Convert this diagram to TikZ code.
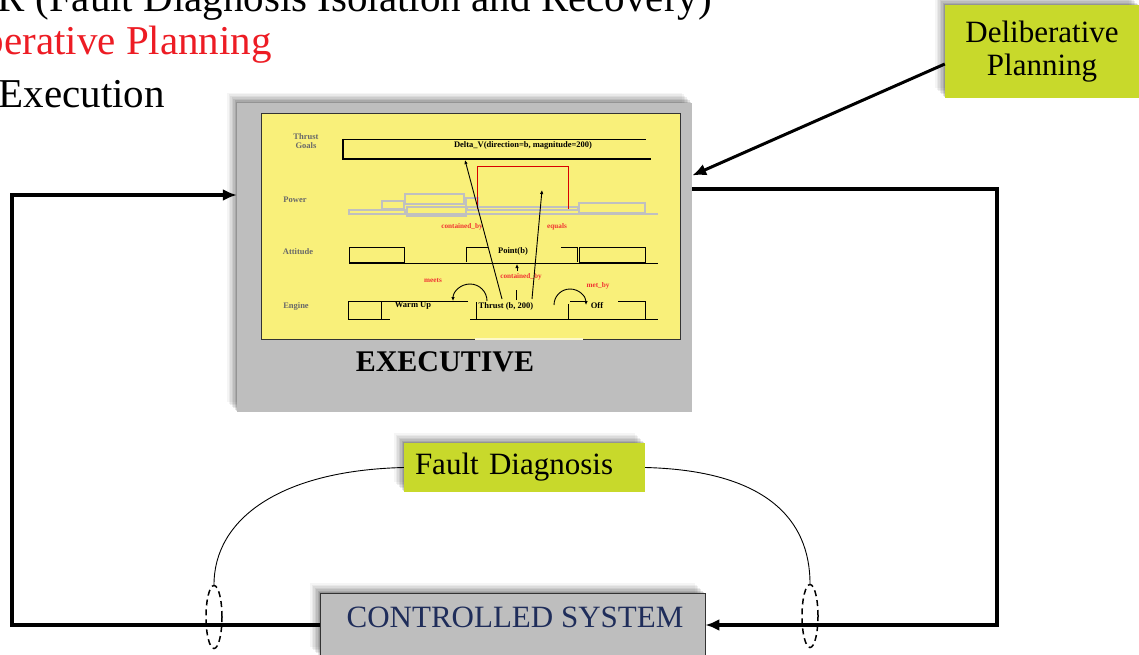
\documentclass[tikz,border=0pt]{standalone}
\usepackage{fontspec}
\setmainfont{Liberation Serif}
\usepackage{tikz}
\usetikzlibrary{shadows}
\usetikzlibrary{arrows.meta}
\usetikzlibrary{shapes.geometric}
\usetikzlibrary{positioning}
\usetikzlibrary{calc}
\definecolor{execgray}{RGB}{190,190,190}
\definecolor{panelyellow}{RGB}{249,240,122}
\definecolor{limegreen}{RGB}{200,217,43}
\definecolor{navytext}{RGB}{31,45,90}
\definecolor{slidered}{RGB}{237,28,36}
\definecolor{tagred}{RGB}{240,50,50}
\definecolor{rowgray}{RGB}{105,105,105}
\definecolor{powergray}{RGB}{192,192,192}
\tikzset{
  >=latex,
  % soft drop shadow towards the upper left
  softshadow/.style={
    general shadow={fill=black, opacity=.04, shadow xshift=-10pt, shadow yshift=10pt},
    general shadow={fill=black, opacity=.05, shadow xshift=-8.5pt, shadow yshift=8.5pt},
    general shadow={fill=black, opacity=.06, shadow xshift=-7pt, shadow yshift=7pt},
    general shadow={fill=black, opacity=.07, shadow xshift=-5.5pt, shadow yshift=5.5pt},
    general shadow={fill=black, opacity=.08, shadow xshift=-4pt, shadow yshift=4pt},
    general shadow={fill=black, opacity=.10, shadow xshift=-2.5pt, shadow yshift=2.5pt},
    general shadow={fill=black, opacity=.12, shadow xshift=-1pt, shadow yshift=1pt}},
  slidetext/.style={font=\fontsize{41}{48}\selectfont, inner sep=0pt},
  boxtext/.style={font=\fontsize{31}{37}\selectfont},
  loopline/.style={draw, line width=4pt, -{Latex[length=14pt,width=12pt]}},
  fdarc/.style={draw, line width=.9pt},
  tl/.style={draw, line width=.9pt},
  pw/.style={draw=powergray, line width=1.1pt},
  tinybold/.style={font=\fontsize{8.5}{9.5}\selectfont\bfseries, inner sep=0pt},
  rowlabel/.style={font=\fontsize{8.5}{9}\selectfont\bfseries, text=rowgray, inner sep=0pt, align=center},
  redtag/.style={font=\fontsize{7.2}{8}\selectfont\bfseries, text=tagred, inner sep=0pt},
  smallarrow/.style={draw, line width=.9pt, -{Latex[length=4pt,width=3.5pt]}}
}

\begin{document}
\begin{tikzpicture}[x=1pt, y=-1pt]
    % Define styles
    \tikzstyle{execbox} = [rectangle, fill=execgray, minimum width=455pt, minimum height=309pt, softshadow]
    \tikzstyle{panel} = [rectangle, draw=black!80, line width=1pt, fill=panelyellow, minimum width=419pt, minimum height=225pt]
    \tikzstyle{limebox} = [rectangle, fill=limegreen, softshadow, boxtext]
    \tikzstyle{ctrlbox} = [rectangle, draw=black!80, line width=.8pt, fill=execgray, minimum width=385pt, minimum height=64pt, softshadow]
    \tikzstyle{sensor} = [ellipse, draw, dashed, dash pattern=on 6pt off 4pt, line width=1.5pt, minimum width=16pt, minimum height=63pt, inner sep=0pt]

    \clip (0,0) rectangle (1139,655);

    % Slide text behind the diagram
    \node[slidetext, anchor=base east] (fdir) at (712,12) {R (Fault Diagnosis Isolation and Recovery)};
    \node[slidetext, anchor=base east, text=slidered] (delibline) at (272,55) {berative Planning};
    \node[slidetext, anchor=base east] (execline) at (165,108) {Execution};

    % Place nodes
    \node[execbox] (exec) at (464.5,257.5) {};
    \node[panel] (timeline) at (470.5,226.5) {};
    \fill[white!60!panelyellow] (475,338) rectangle (583,340);
    \node[font=\fontsize{30}{36}\selectfont\bfseries] (execlabel) at (445,362) {EXECUTIVE};

    \node[limebox, minimum width=194pt, minimum height=93pt, align=center] (delib) at (1042,52) {Deliberative\\[-4pt]Planning};
    \node[limebox, minimum height=49pt, text width=219pt, inner xsep=11pt, align=left] (fault) at (524.5,467.5) {Fault Diagnosis};
    \node[ctrlbox] (ctrl) at (512.5,625) {};
    \node[boxtext, text=navytext] (ctrllabel) at (515,617) {CONTROLLED SYSTEM};

    \node[sensor] (sensl) at (214,617) {};
    \node[sensor] (sensr) at (810,616) {};

    % Timeline inside the executive
    \node[rowlabel] (lblgoals) at (306,141) {Thrust\\Goals};
    \node[rowlabel] (lblpower) at (295,200) {Power};
    \node[rowlabel] (lblatt) at (298,252) {Attitude};
    \node[rowlabel] (lbleng) at (296,306) {Engine};

    \draw[tl] (343,139) -- (646,139);
    \draw[tl, line width=1.3pt] (343,139) -- (343,159) -- (651,159);
    \node[tinybold] (deltav) at (523,145) {Delta\_V(direction=b, magnitude=200)};

    \draw[pw] (349,210) rectangle (405,214);
    \draw[pw] (349,214) -- (658,214);
    \draw[pw] (382,201) rectangle (404,209);
    \draw[pw] (405,194) rectangle (464,204);
    \draw[pw] (407,207) rectangle (466,216);
    \draw[pw] (466,198) rectangle (478,207);
    \draw[pw] (467,207) rectangle (578,210);
    \draw[pw] (579,203) rectangle (645,213);
    \draw[draw=red!85!black, line width=.9pt] (477,209) -- (477,166) -- (568,166) -- (568,209);

    \draw[tl] (349,247) rectangle (404,262);
    \draw[tl] (349,263) -- (658,263);
    \draw[tl] (488,247) -- (466,247) -- (466,262);
    \node[tinybold] (pointb) at (513,251) {Point(b)};
    \draw[tl] (561,247) -- (577,247) -- (577,262);
    \draw[tl] (579,247) rectangle (645,262);

    \draw[tl] (348,301) rectangle (381,319);
    \draw[tl] (468,301) -- (381,301) -- (381,319) -- (390,319);
    \node[tinybold] (warmup) at (413,306) {Warm Up};
    \draw[tl] (476,302) -- (476,319);
    \draw[tl] (470,319) -- (658,319);
    \node[tinybold] (thrust) at (506,306) {Thrust (b, 200)};
    \draw[tl] (516,290) -- (516,300);
    \draw[tl] (570,301) -- (585,301);
    \draw[tl] (568,304) -- (568,319);
    \node[tinybold] (off) at (597,306) {Off};
    \draw[tl] (618,301) -- (645,301) -- (645,319);

    \node[redtag] (contby) at (462,227) {contained\_by};
    \node[redtag] (equals) at (557,227) {equals};
    \node[redtag] (contbyatt) at (521,277) {contained\_by};
    \node[redtag] (meets) at (433,281) {meets};
    \node[redtag] (metby) at (598,286) {met\_by};

    \coordinate (goalfoot) at (465,160);
    \coordinate (powertop) at (542,190);
    \coordinate (thrustl) at (502,299);
    \coordinate (thrustr) at (532,299);
    \coordinate (attfoot) at (517,264);
    \draw[smallarrow] (thrustl) -- (goalfoot);
    \draw[smallarrow] (thrustr) -- (powertop);
    \draw[smallarrow] (517,271) -- (attfoot);
    \draw[smallarrow] (487,301) arc (0:-180:17);
    \draw[smallarrow] (554,305) arc (180:360:16);

    % Draw edges
    \coordinate (ltop) at (12,195);
    \coordinate (lbot) at (12,625);
    \coordinate (rtop) at (997,189);
    \coordinate (rbot) at (997,625);
    \path[loopline] (ctrl.west) -- (lbot) -- (ltop) -- (ltop -| exec.west);
    \path[loopline] (exec.east |- rtop) -- (rtop) -- (rbot) -- (ctrl.east);
    \path[loopline, line width=3pt] ([yshift=-12pt]delib.west) -- ([yshift=82pt]exec.east);

    \path[fdarc] (fault.west) .. controls +(-125,3) and +(0,-65) .. (sensl.north);
    \path[fdarc] (fault.east) .. controls +(120,3) and +(0,-65) .. (sensr.north);
\end{tikzpicture}
\end{document}
